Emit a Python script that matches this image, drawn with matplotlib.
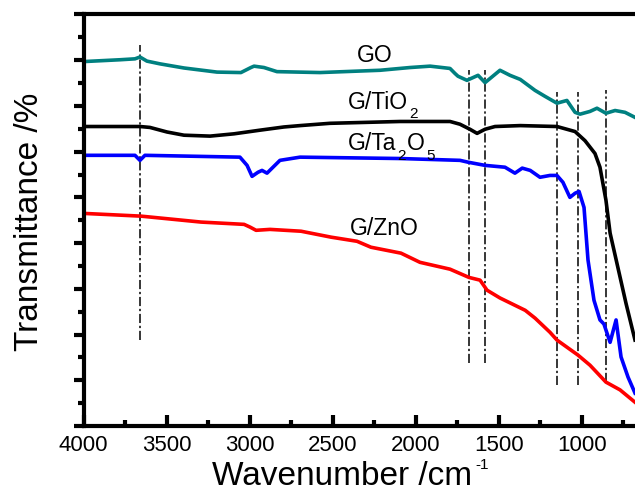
import matplotlib
matplotlib.use("Agg")
import matplotlib.pyplot as plt
from matplotlib.ticker import MultipleLocator, NullFormatter

plt.rcParams['font.family'] = ['Liberation Sans', 'DejaVu Sans']

# ---- data (wavenumber in cm^-1, transmittance in arbitrary offset units) ----
go_wn = [4000, 3780, 3690, 3660, 3618, 3539, 3395, 3196, 3052, 2992, 2973, 2913,
         2835, 2576, 2214, 2034, 1913, 1793, 1763, 1745, 1691, 1624, 1582, 1492,
         1432, 1370, 1281, 1221, 1149, 1089, 1040, 1010, 950, 908, 854, 799, 739, 679]
go_t = [7.97, 8.01, 8.03, 8.07, 7.98, 7.92, 7.83, 7.74, 7.73, 7.84, 7.87, 7.84,
        7.75, 7.73, 7.78, 7.84, 7.87, 7.82, 7.71, 7.65, 7.56, 7.67, 7.51, 7.78,
        7.67, 7.58, 7.34, 7.21, 7.06, 7.12, 6.86, 6.82, 6.88, 6.95, 6.84, 6.90, 6.86, 6.75]

tio2_wn = [4000, 3660, 3600, 3497, 3395, 3238, 3094, 2937, 2793, 2696, 2516, 2094,
           1793, 1733, 1673, 1630, 1582, 1522, 1370, 1149, 1040, 980, 920, 890,
           854, 829, 781, 733, 679]
tio2_t = [6.55, 6.55, 6.53, 6.43, 6.36, 6.34, 6.39, 6.47, 6.54, 6.57, 6.62, 6.66,
          6.66, 6.60, 6.49, 6.40, 6.49, 6.55, 6.57, 6.55, 6.44, 6.24, 5.96, 5.66,
          4.94, 4.22, 3.45, 2.68, 1.88]

ta2o5_wn = [4000, 3690, 3660, 3630, 3058, 3015, 2985, 2949, 2925, 2895, 2817, 2696,
            2094, 1733, 1685, 1582, 1462, 1402, 1358, 1310, 1251, 1191, 1149, 1113,
            1071, 1040, 1016, 986, 962, 926, 890, 866, 829, 793, 763, 721, 679]
ta2o5_t = [5.92, 5.92, 5.81, 5.92, 5.88, 5.70, 5.46, 5.55, 5.59, 5.53, 5.81, 5.88,
           5.85, 5.81, 5.77, 5.70, 5.66, 5.53, 5.64, 5.59, 5.44, 5.48, 5.48, 5.33,
           5.00, 5.09, 5.13, 4.78, 3.63, 2.75, 2.32, 2.23, 1.83, 2.32, 1.51, 1.07, 0.72]

zno_wn = [4000, 3654, 3292, 3033, 2997, 2961, 2877, 2690, 2509, 2353, 2269, 2088,
          1974, 1793, 1679, 1612, 1570, 1492, 1340, 1281, 1191, 1149, 1022, 950,
          854, 769, 679]
zno_t = [4.65, 4.59, 4.46, 4.41, 4.35, 4.28, 4.30, 4.26, 4.13, 4.04, 3.91, 3.78,
         3.58, 3.43, 3.25, 3.19, 2.97, 2.80, 2.53, 2.36, 2.05, 1.88, 1.55, 1.33,
         0.96, 0.79, 0.52]

# reference lines: position, lower end, upper end
ref_wn = [3660, 1679, 1582, 1149, 1022, 854]
ref_lo = [1.88, 1.38, 1.38, 0.90, 0.90, 0.96]
ref_hi = [8.34, 7.78, 7.78, 7.30, 7.30, 7.34]

# labels as (text, is_subscript) pieces
labels = [[('GO', False)],
          [('G/TiO', False), ('2', True)],
          [('G/Ta', False), ('2', True), ('O', False), ('5', True)],
          [('G/ZnO', False)]]
label_wn = [2353, 2407, 2407, 2395]
label_t = [7.95, 6.94, 6.03, 4.17]

MAIN, SUB, DROP = 16.5, 11, 6.5
DESC = 0.21  # approx. descent fraction of the font


def chained(ax, x, y, pieces, transform):
    first = ax.text(x, y, pieces[0][0], fontsize=MAIN, ha='left', va='baseline',
                    transform=transform)
    prev, prev_sub = first, pieces[0][1]
    for s, sub in pieces[1:]:
        dmain, dsub = DESC * MAIN, DESC * SUB
        if sub and not prev_sub:
            dy = dmain - dsub - DROP
        elif not sub and prev_sub:
            dy = DROP - (dmain - dsub)
        else:
            dy = 0
        prev = ax.annotate(s, xy=(1, 0), xycoords=prev, xytext=(0.8, dy),
                           textcoords='offset points', ha='left', va='bottom',
                           fontsize=SUB if sub else MAIN, annotation_clip=False)
        prev_sub = sub
    return first


fig = plt.figure(figsize=(6.35, 4.96), dpi=100)
ax = fig.add_axes([0.1315, 0.1411, 0.8685, 0.8297])

for w, lo, hi in zip(ref_wn, ref_lo, ref_hi):
    ax.plot([w, w], [lo, hi], color='black', lw=1.1, dashes=(6, 1.8, 1.5, 1.8), zorder=1)

ax.plot(go_wn, go_t, color='#008080', lw=2.6, zorder=2)
ax.plot(tio2_wn, tio2_t, color='black', lw=2.6, zorder=2)
ax.plot(ta2o5_wn, ta2o5_t, color='#0000FF', lw=2.6, zorder=2)
ax.plot(zno_wn, zno_t, color='#FF0000', lw=2.6, zorder=2)

for pcs, w, t in zip(labels, label_wn, label_t):
    chained(ax, w, t, pcs, ax.transData)

ax.set_xlim(4000, 679)
ax.set_ylim(0, 9)
ax.xaxis.set_major_locator(MultipleLocator(500))
ax.xaxis.set_minor_locator(MultipleLocator(250))
ax.yaxis.set_major_locator(MultipleLocator(1))
ax.yaxis.set_minor_locator(MultipleLocator(0.5))
ax.yaxis.set_major_formatter(NullFormatter())

for side in ['left', 'bottom', 'top']:
    ax.spines[side].set_linewidth(3)
ax.spines['right'].set_visible(False)

ax.tick_params(axis='x', which='major', direction='in', length=8, width=3,
               labelsize=16, pad=6.5, top=False)
ax.tick_params(axis='x', which='minor', direction='in', length=4.5, width=3, top=False)
ax.tick_params(axis='y', which='major', direction='out', length=7.5, width=3, right=False)
ax.tick_params(axis='y', which='minor', direction='out', length=4.5, width=3, right=False)

# axis titles
xl = fig.text(212 / 635, 1 - 485 / 496, 'Wavenumber /cm', fontsize=24,
              ha='left', va='baseline')
ax.annotate('-1', xy=(1, 0), xycoords=xl, xytext=(2, 14.5), textcoords='offset points',
            ha='left', va='bottom', fontsize=11, annotation_clip=False)
fig.text(30 / 635, 1 - 222 / 496, 'Transmittance /%', fontsize=24, rotation=90,
         ha='center', va='center')

fig.savefig('out.png', dpi=100)
